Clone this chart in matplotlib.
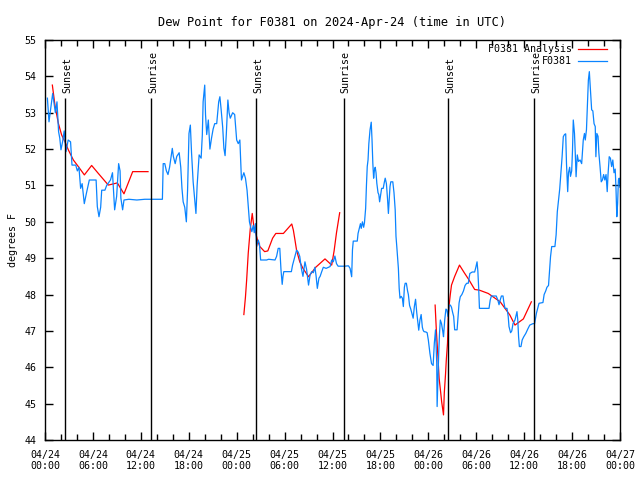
"""Dew point time series for F0381 with analysis overlay."""

import numpy as np
import matplotlib
matplotlib.use("Agg")
import matplotlib.pyplot as plt

# hours since 2024-04-24 00:00 UTC
obs_hours = [
    0.3, 0.5, 0.96, 1.3, 1.5, 1.7, 1.85, 2.0, 2.2, 2.4, 2.63, 2.9, 3.2, 3.38, 3.85,
    4.05, 4.25, 4.46, 4.65, 4.92, 5.2, 5.55, 6.4, 6.55, 6.76, 6.97, 7.1, 7.5, 7.72,
    8.2, 8.45, 8.72, 8.97, 9.22, 9.4, 9.5, 9.72, 9.89, 10.5, 11.5, 12.5, 14.7, 14.8,
    15.0, 15.2, 15.4, 15.6, 15.94, 16.07, 16.3, 16.5, 16.8, 17.0, 17.15, 17.3, 17.5,
    17.7, 17.85, 18.03, 18.2, 18.35, 18.55, 18.75, 18.9, 19.05, 19.3, 19.55, 19.7,
    19.8, 20.0, 20.1, 20.25, 20.45, 20.65, 20.85, 21.05, 21.25, 21.5, 21.75, 21.9,
    22.05, 22.25, 22.4, 22.55, 22.7, 22.9, 23.05, 23.2, 23.5, 23.75, 24.0, 24.2,
    24.4, 24.6, 24.9, 25.1, 25.3, 25.46, 25.6, 25.75, 25.9, 26.07, 26.2, 26.35,
    26.5, 26.7, 26.85, 27.0, 27.75, 28.0, 28.8, 29.0, 29.2, 29.4, 29.55, 29.7,
    29.8, 29.9, 30.85, 31.0, 31.5, 31.7, 31.9, 32.1, 32.3, 32.55, 32.75, 32.9, 33.0,
    33.2, 33.4, 33.6, 33.8, 33.95, 34.1, 34.3, 34.45, 34.65, 34.85, 35.2, 35.7,
    35.9, 36.1, 36.3, 36.5, 36.7, 37.0, 37.5, 38.0, 38.2, 38.3, 38.4, 38.5, 38.6,
    39.1, 39.2, 39.35, 39.5, 39.6, 39.75, 39.9, 40.0, 40.15, 40.25, 40.35, 40.45,
    40.55, 40.7, 40.85, 40.95, 41.05, 41.15, 41.25, 41.35, 41.45, 41.55, 41.7,
    41.8, 41.9, 42.0, 42.15, 42.35, 42.5, 42.6, 42.75, 42.9, 43.0, 43.1, 43.2,
    43.3, 43.55, 43.7, 43.85, 43.95, 44.05, 44.25, 44.35, 44.45, 44.6, 44.75,
    44.87, 45.0, 45.1, 45.25, 45.4, 45.5, 45.65, 45.8, 45.95, 46.1, 46.25, 46.4,
    46.55, 46.7, 46.8, 46.95, 47.1, 47.25, 47.35, 47.46, 47.7, 47.85, 48.0, 48.2,
    48.4, 48.6, 48.75, 48.9, 49.05, 49.1, 49.2, 49.3, 49.4, 49.5, 49.65, 49.8,
    49.9, 50.05, 50.2, 50.33, 50.45, 50.6, 50.76, 50.9, 51.05, 51.17, 51.3, 51.6,
    51.73, 51.85, 52.0, 52.2, 52.4, 52.6, 52.8, 53.0, 53.2, 53.5, 53.8, 53.95,
    54.1, 54.2, 54.3, 54.4, 55.6, 55.75, 55.9, 56.5, 56.7, 56.85, 57.0, 57.15,
    57.35, 57.45, 57.6, 57.85, 58.0, 58.1, 58.3, 58.45, 58.6, 58.85, 59.1, 59.2,
    59.3, 59.4, 59.6, 59.75, 59.95, 60.2, 60.45, 60.7, 61.1, 61.3, 61.55, 61.86,
    62.35, 62.5, 62.7, 62.85, 63.05, 63.15, 63.3, 63.45, 63.85, 64.0, 64.15, 64.3,
    64.45, 64.6, 64.75, 64.9, 65.05, 65.2, 65.3, 65.45, 65.55, 65.7, 65.8, 65.95,
    66.05, 66.15, 66.3, 66.4, 66.5, 66.65, 66.8, 67.0, 67.2, 67.4, 67.55, 67.65,
    67.8, 67.9, 68.04, 68.16, 68.3, 68.45, 68.6, 68.75, 68.9, 68.98, 69.1, 69.25,
    69.35, 69.5, 69.65, 69.8, 69.95, 70.1, 70.25, 70.4, 70.5, 70.65, 70.8, 70.95,
    71.1, 71.25, 71.4, 71.5, 71.6, 71.7, 71.8, 71.9, 72.0,
]
obs_dewpt = [
    53.4, 52.75, 53.53, 53.0, 53.3, 52.48, 52.3, 51.98, 52.2, 52.5, 51.93, 52.25,
    52.2, 51.56, 51.56, 51.4, 51.5, 50.92, 51.05, 50.5, 50.8, 51.15, 51.15, 50.42,
    50.14, 50.4, 50.87, 50.87, 51.0, 51.15, 51.35, 50.33, 50.7, 51.6, 51.4, 50.65,
    50.33, 50.6, 50.62, 50.6, 50.62, 50.62, 51.6, 51.6, 51.4, 51.3, 51.5, 52.02,
    51.8, 51.6, 51.8, 51.9, 51.5, 50.92, 50.55, 50.4, 50.0, 50.85, 52.43, 52.66,
    51.9, 51.1, 50.6, 50.23, 51.0, 51.84, 51.75, 52.39, 53.3, 53.76, 52.95, 52.4,
    52.8, 52.0, 52.3, 52.55, 52.7, 52.7, 53.3, 53.44, 53.1, 52.6, 52.02, 51.82,
    52.4, 53.35, 53.0, 52.85, 53.0, 52.95, 52.25, 52.15, 52.25, 51.15, 51.35, 51.2,
    50.87, 50.4, 50.0, 49.85, 49.73, 49.9, 49.7, 49.95, 49.32, 49.5, 49.4, 48.95,
    48.95, 48.97, 48.95, 49.05, 49.27, 49.27, 48.68, 48.28, 48.5, 48.63, 48.63,
    48.81, 49.22, 49.17, 49.05, 48.72, 48.5, 48.9, 48.7, 48.45, 48.26, 48.55, 48.63,
    48.6, 48.75, 48.5, 48.17, 48.45, 48.5, 48.63, 48.75, 48.72, 48.77, 48.95, 48.9,
    49.06, 48.85, 48.78, 48.78, 48.78, 48.79, 48.72, 48.6, 48.49, 49.23, 49.47,
    49.47, 49.68, 49.82, 49.95, 49.82, 50.0, 49.85, 49.97, 50.37, 51.0, 51.52, 51.7,
    52.15, 52.53, 52.74, 52.25, 51.61, 51.2, 51.42, 51.5, 51.35, 51.06, 50.8, 50.75,
    50.55, 50.7, 50.92, 50.92, 51.1, 51.2, 51.05, 50.6, 50.23, 50.6, 50.97, 51.1,
    51.1, 50.8, 50.33, 49.6, 49.32, 48.72, 48.17, 47.9, 47.95, 47.9, 47.67, 48.2,
    48.31, 48.31, 48.1, 48.0, 47.7, 47.6, 47.48, 47.35, 47.67, 47.87, 47.5, 47.2,
    47.02, 47.3, 47.45, 47.1, 47.02, 46.98, 46.97, 46.95, 46.75, 46.38, 46.1, 46.05,
    46.66, 47.03, 46.12, 44.92, 45.65, 46.38, 46.93, 47.3, 47.2, 47.0, 46.84,
    47.3, 47.6, 47.58, 47.4, 47.7, 47.71, 47.65, 47.5, 47.4, 47.03, 47.03, 47.4,
    47.77, 47.94, 48.0, 48.1, 48.25, 48.31, 48.31, 48.58, 48.62, 48.62, 48.75,
    48.9, 48.65, 48.2, 47.62, 47.62, 47.85, 47.96, 47.96, 47.85, 47.72, 47.85,
    47.96, 47.96, 47.8, 47.62, 47.62, 47.4, 47.12, 46.95, 47.0, 47.2, 47.3, 47.53,
    47.3, 46.84, 46.57, 46.57, 46.75, 46.84, 46.93, 47.05, 47.16, 47.2, 47.2, 47.5,
    47.76, 47.78, 48.0, 48.1, 48.2, 48.25, 48.58, 49.04, 49.32, 49.32, 49.64, 50.28,
    50.6, 50.9, 51.35, 51.79, 52.34, 52.4, 52.42, 51.6, 50.83, 51.35, 51.5, 51.25,
    51.4, 51.95, 52.8, 52.43, 51.88, 51.24, 51.84, 51.66, 51.7, 51.6, 52.25, 52.43,
    52.25, 52.53, 53.08, 53.9, 54.13, 53.6, 53.08, 53.05, 52.7, 52.62, 51.79, 52.43,
    52.35, 51.9, 51.52, 51.1, 51.15, 51.3, 51.15, 51.3, 50.83, 51.3, 51.79, 51.75,
    51.52, 51.7, 51.35, 51.45, 50.9, 50.14, 50.5, 51.15, 51.2, 50.95,
]

# analysis, three separate daily runs (NaN = gap)
ana_hours = [
    0.92, 1.25, 1.67, 2.08, 2.5, 2.92, 3.55, 4.17, 4.93, 5.84, 6.68, 7.93, 9.06,
    9.89, 10.98, 12.9, 18.0,
    24.9, 25.1, 25.25, 25.45, 25.7, 25.95, 26.15, 26.4, 26.6, 26.9, 27.5, 27.9,
    28.5, 28.9, 29.85, 30.9, 31.1, 31.3, 31.5, 31.9, 32.3, 33.0, 33.9, 35.06,
    35.9, 36.2, 36.5, 36.9, 42.0,
    48.85, 49.0, 49.2, 49.35, 49.55, 49.67, 49.9, 50.0, 50.15, 50.25, 50.4, 50.5,
    50.6, 50.75, 50.9, 51.3, 51.9, 52.5, 53.1, 53.8, 54.4, 55.5, 57.0, 58.2,
    58.85, 59.9, 60.9,
]
ana_dewpt = [
    53.76, 53.2, 52.71, 52.39, 52.2, 51.98, 51.7, 51.52, 51.29, 51.55, 51.33,
    51.01, 51.07, 50.77, 51.38, 51.38, np.nan,
    47.45, 47.93, 48.4, 49.14, 49.8, 50.23, 49.87, 49.68, 49.5, 49.32, 49.18,
    49.2, 49.55, 49.68, 49.68, 49.94, 49.77, 49.5, 49.22, 48.9, 48.72, 48.49,
    48.75, 48.98, 48.81, 49.2, 49.7, 50.25, np.nan,
    47.71, 47.03, 46.3, 45.7, 45.3, 45.05, 44.69, 45.3, 45.8, 46.2, 46.66, 47.4,
    47.7, 48.0, 48.26, 48.5, 48.81, 48.6, 48.4, 48.14, 48.12, 48.03, 47.8, 47.44,
    47.16, 47.33, 47.8,
]

sun_hours = [2.54, 13.27, 26.46, 37.4, 50.5, 61.27]
sun_labels = ["Sunset", "Sunrise", "Sunset", "Sunrise", "Sunset", "Sunrise"]

tick_hours = list(range(0, 73, 6))
tick_labels = [
    "04/24\n00:00", "04/24\n06:00", "04/24\n12:00", "04/24\n18:00",
    "04/25\n00:00", "04/25\n06:00", "04/25\n12:00", "04/25\n18:00",
    "04/26\n00:00", "04/26\n06:00", "04/26\n12:00", "04/26\n18:00",
    "04/27\n00:00",
]

plt.rcParams["font.family"] = "DejaVu Sans Mono"
plt.rcParams["font.size"] = 7.2

fig = plt.figure(figsize=(6.4, 4.8), dpi=100)
ax = fig.add_axes([45 / 640, 40 / 480, 575 / 640, 400 / 480])

ax.plot(ana_hours, ana_dewpt, color="#ff0000", lw=0.9, label="F0381 Analysis")
ax.plot(obs_hours, obs_dewpt, color="#0a84ff", lw=0.9, label="F0381")

ax.vlines(sun_hours, 44, 53.4, color="black", lw=1)
for h, lab in zip(sun_hours, sun_labels):
    ax.text(h + 0.25, 53.55, lab, rotation=90, ha="center", va="bottom")

ax.set_xlim(0, 72)
ax.set_ylim(44, 55)
ax.set_xticks(tick_hours)
ax.set_xticklabels(tick_labels)
ax.set_xticks(range(0, 73, 2), minor=True)
ax.set_yticks(range(44, 56))
ax.tick_params(which="both", direction="in", top=True, right=True, width=1)
ax.tick_params(which="major", length=6)
ax.tick_params(which="minor", length=4)
ax.tick_params(axis="x", pad=7)
ax.tick_params(axis="y", pad=6)
for s in ax.spines.values():
    s.set_linewidth(1)

ax.set_ylabel("degrees F", labelpad=5)
ax.set_title("Dew Point for F0381 on 2024-Apr-24 (time in UTC)", pad=10)

ax.legend(loc="upper right", bbox_to_anchor=(612 / 640, 441 / 480),
          bbox_transform=fig.transFigure, frameon=False, markerfirst=False,
          borderpad=0, handlelength=2.9, handletextpad=0.6, labelspacing=0.25)

fig.savefig("out.png", dpi=100)
